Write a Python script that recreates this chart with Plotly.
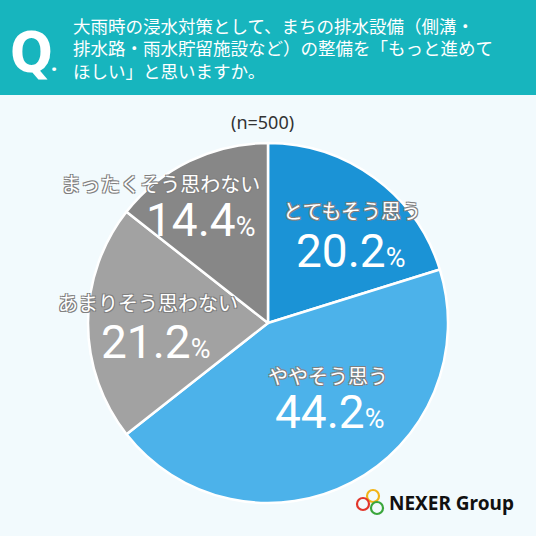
import plotly.graph_objects as go

categories = ["とてもそう思う", "ややそう思う", "あまりそう思わない", "まったくそう思わない"]
values = [20.2, 44.2, 21.2, 14.4]
colors = ["#1b93d6", "#4cb2ea", "#a2a2a2", "#878787"]
question_lines = ["大雨時の浸水対策として、まちの排水設備（側溝・",
                  "排水路・雨水貯留施設など）の整備を「もっと進めて",
                  "ほしい」と思いますか。"]
sample_note = "(n=500)"

W = H = 536
def px(x):
    return x / W
def py(y):
    return 1 - y / H

fig = go.Figure()
fig.add_trace(go.Pie(
    labels=categories, values=values, sort=False, direction="clockwise",
    rotation=0, marker=dict(colors=colors, line=dict(color="#ffffff", width=2.5)),
    textinfo="none", hoverinfo="label+percent", showlegend=False,
    domain=dict(x=[px(268 - 180), px(268 + 180)], y=[py(503), py(143)]),
))

CJK = "Noto Sans CJK JP"
NUM = "Roboto, Noto Sans"
OUTLINE = "-1px -1px 0 #808080, 1px -1px 0 #808080, -1px 1px 0 #808080, 1px 1px 0 #808080"
annotations = []
# header
annotations.append(dict(x=px(31), y=py(51), xref="paper", yref="paper", xanchor="center", yanchor="middle",
                        text="<b>Q</b>", showarrow=False,
                        font=dict(family="DejaVu Sans Condensed, Noto Sans", size=56, color="#ffffff")))
annotations.append(dict(x=px(54), y=py(62), xref="paper", yref="paper", xanchor="center", yanchor="middle",
                        text="<b>.</b>", showarrow=False, font=dict(family="Noto Sans", size=22, color="#ffffff")))
for line, ly in zip(question_lines, [25, 47, 70]):
    annotations.append(dict(x=px(71), y=py(ly), xref="paper", yref="paper", xanchor="left", yanchor="middle",
                            align="left", text=line, showarrow=False,
                            font=dict(family=CJK, size=17.5, color="#ffffff")))
annotations.append(dict(x=px(262), y=py(122), xref="paper", yref="paper", xanchor="center", yanchor="middle",
                        text=sample_note, showarrow=False, font=dict(family="Noto Sans", size=18, color="#333333")))

name_pos = [(352, 210), (328, 375), (148, 302), (160, 183)]
val_pos = [(350, 251), (330, 412), (155, 342), (200, 220)]
for cat, v, (nx, ny), (vx, vy) in zip(categories, values, name_pos, val_pos):
    annotations.append(dict(x=px(nx), y=py(ny), xref="paper", yref="paper", xanchor="center", yanchor="middle",
                            text=cat, showarrow=False,
                            font=dict(family=CJK, size=20, color="#ffffff", shadow=OUTLINE)))
    annotations.append(dict(x=px(vx), y=py(vy), xref="paper", yref="paper", xanchor="center", yanchor="middle",
                            text=f"{v:.1f}<span style='font-size:27px'>%</span>", showarrow=False,
                            font=dict(family=NUM, size=46, color="#ffffff")))

# logo text
annotations.append(dict(x=px(387), y=py(503), xref="paper", yref="paper", xanchor="left", yanchor="middle",
                        text="<b>NEXER Group</b>", showarrow=False, font=dict(family="Noto Sans", size=19, color="#111111")))

shapes = [dict(type="rect", xref="paper", yref="paper", x0=0, x1=1, y0=py(95), y1=1,
               fillcolor="#17b5be", line=dict(width=0), layer="below")]
for (cx, cy, col) in [(373, 496, "#f2b418"), (363, 504, "#e2362b"), (377, 508, "#3aa63c")]:
    r = 6
    shapes.append(dict(type="circle", xref="paper", yref="paper", x0=px(cx - r), x1=px(cx + r),
                       y0=py(cy + r), y1=py(cy - r), line=dict(color=col, width=2.2)))

fig.update_layout(width=W, height=H, margin=dict(l=0, r=0, t=0, b=0),
                  paper_bgcolor="#f2fafd", plot_bgcolor="#f2fafd",
                  annotations=annotations, shapes=shapes)
fig.write_html("out.html", config={"displayModeBar": False},
               post_script="document.body.style.margin='0';document.body.style.overflow='hidden';")
